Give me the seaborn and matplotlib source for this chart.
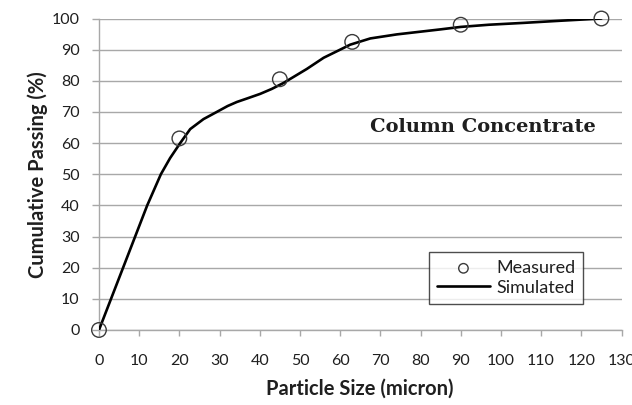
import matplotlib
matplotlib.use("Agg")
import matplotlib.pyplot as plt
import seaborn as sns
import pandas as pd

# Measured cumulative passing at each sieve size
measured_size = [0, 20, 45, 63, 90, 125]
measured_pass = [0, 61.5, 80.5, 92.5, 98, 100]

# Simulated size distribution curve
sim_size = [0, 3, 6, 9, 12, 15.4, 17.7, 20.2, 22.7, 26, 29.3, 32, 34.3, 37,
            40.1, 43, 45.9, 51.7, 55.9, 60, 62.5, 67.5, 74.1, 84.9, 90, 97,
            105.7, 115, 125]
sim_pass = [0, 10, 20, 30, 40, 50, 55.2, 60, 64.5, 67.7, 70, 71.9, 73.2, 74.4,
            75.8, 77.4, 79.3, 83.8, 87.4, 90, 91.6, 93.6, 94.9, 96.5, 97.3, 98,
            98.6, 99.3, 100]

x_ticks = list(range(0, 131, 10))
y_ticks = list(range(0, 101, 10))

sns.set_style("white")
plt.rcParams["font.family"] = ["Lato", "DejaVu Sans"]

text_col = "#1f1f1f"
grid_col = "#a8a8a8"

fig = plt.figure(figsize=(6.32, 4.05), dpi=100)
ax = fig.add_axes([0.1566, 0.1852, 0.8268, 0.7691])

sim_df = pd.DataFrame({"size": sim_size, "passing": sim_pass})
meas_df = pd.DataFrame({"size": measured_size, "passing": measured_pass})

sns.lineplot(data=sim_df, x="size", y="passing", ax=ax, color="black",
             linewidth=1.9, sort=False, label="Simulated", zorder=3,
             solid_joinstyle="round", solid_capstyle="round")
sns.scatterplot(data=meas_df, x="size", y="passing", ax=ax, s=110,
                facecolor="none", edgecolor="#3a3a3a", linewidth=1.0,
                marker="o", label="Measured", zorder=4, clip_on=False)

ax.set_xlim(0, 130)
ax.set_ylim(0, 100)
ax.set_xticks(x_ticks)
ax.set_yticks(y_ticks)
ax.yaxis.grid(True, color=grid_col, linewidth=1.0)
ax.xaxis.grid(False)
ax.set_axisbelow(True)

for side in ["top", "right"]:
    ax.spines[side].set_visible(False)
for side in ["left", "bottom"]:
    ax.spines[side].set_color(grid_col)
    ax.spines[side].set_linewidth(1.0)

ax.tick_params(axis="y", direction="out", length=5, width=1.0, color=grid_col,
               pad=9, labelsize=11.5, labelcolor=text_col, left=True)
ax.tick_params(axis="x", direction="out", length=4, width=1.0, color=grid_col,
               pad=13, labelsize=11.5, labelcolor=text_col, bottom=True)

ax.set_xlabel("Particle Size (micron)", fontsize=14.5, fontweight="bold",
              color=text_col, labelpad=8)
ax.set_ylabel("Cumulative Passing (%)", fontsize=14.5, fontweight="bold",
              color=text_col, labelpad=2.5)

ax.text(0.519, 0.653, "Column Concentrate", transform=ax.transAxes,
        fontsize=14, fontweight="bold", color=text_col,
        family=["DejaVu Serif"], va="center", ha="left")

handles, labels = ax.get_legend_handles_labels()
order = [labels.index("Measured"), labels.index("Simulated")]
leg = ax.legend([handles[i] for i in order], [labels[i] for i in order],
                loc="upper left", bbox_to_anchor=(0.679, 0.378),
                bbox_transform=fig.transFigure, frameon=True, fancybox=False,
                edgecolor="#202020", fontsize=13, handlelength=2.9,
                handletextpad=0.35, borderpad=0.45, labelspacing=0.2,
                borderaxespad=0, markerscale=0.65)
leg.get_frame().set_linewidth(1.0)
for t in leg.get_texts():
    t.set_color(text_col)

fig.savefig("out.png", dpi=100)
